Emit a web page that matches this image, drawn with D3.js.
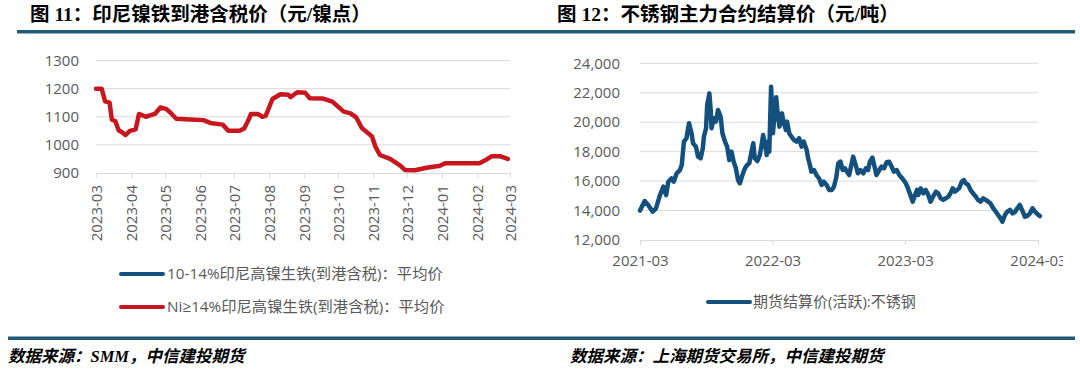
<!DOCTYPE html>
<html>
<head>
  <meta charset="utf-8">
  <title>印尼镍铁 / 不锈钢</title>
  <script src="https://d3js.org/d3.v7.min.js"></script>
  <style>
    body { margin: 0; background: #fff; }
    svg { display: block; }
    .lbl { font-family: "Open Sans", "Noto Sans CJK SC", sans-serif; font-size: 15px; fill: #595959; }
    .ttl { font-family: "Liberation Serif", "Noto Sans CJK SC", serif; font-size: 19.5px; font-weight: bold; fill: #000; }
    .src { font-family: "Liberation Serif", "Noto Sans CJK SC", serif; font-size: 16.5px; font-weight: bold; font-style: italic; fill: #000; }
  </style>
</head>
<body>
<svg id="chart" width="1080" height="370"></svg>
<script>
  // 图11 数据：Ni≥14% 印尼高镍生铁 到港含税 平均价（元/镍点）
  var nickelDates = ["2023-03-01","2023-03-06","2023-03-09","2023-03-13","2023-03-15","2023-03-18","2023-03-21","2023-03-24","2023-03-27","2023-03-31",
    "2023-04-05","2023-04-08","2023-04-14","2023-04-22","2023-04-27","2023-05-02","2023-05-07","2023-05-11","2023-05-23","2023-06-04",
    "2023-06-10","2023-06-21","2023-06-26","2023-07-06","2023-07-10","2023-07-14","2023-07-16","2023-07-22","2023-07-26","2023-07-29",
    "2023-08-04","2023-08-11","2023-08-18","2023-08-20","2023-08-26","2023-09-02","2023-09-06","2023-09-17","2023-09-26","2023-10-01",
    "2023-10-06","2023-10-12","2023-10-17","2023-10-22","2023-10-28","2023-10-31","2023-11-03","2023-11-07","2023-11-16","2023-11-25",
    "2023-11-29","2023-12-08","2023-12-17","2023-12-30","2024-01-04","2024-01-26","2024-02-03","2024-02-08","2024-02-14","2024-02-21","2024-02-28"];
  var nickelHigh = [1200,1200,1155,1150,1090,1085,1052,1045,1035,1050,
    1055,1110,1100,1110,1133,1128,1110,1093,1090,1088,
    1078,1072,1050,1050,1058,1090,1110,1110,1100,1103,
    1163,1180,1178,1170,1187,1185,1166,1165,1154,1136,
    1118,1112,1098,1060,1040,1030,994,964,950,926,
    911,910,918,926,935,935,935,945,960,960,950];
  var nickelTicks = [900, 1000, 1100, 1200, 1300];
  var nickelLegend = ["10-14%印尼高镍生铁(到港含税)：平均价", "Ni≥14%印尼高镍生铁(到港含税)：平均价"];

  // 图12 数据：期货结算价(活跃):不锈钢（元/吨）
  var steelDates = ["2021-03-01","2021-03-14","2021-03-23","2021-04-05","2021-04-14","2021-04-25","2021-05-04","2021-05-12","2021-05-18","2021-05-27",
    "2021-06-02","2021-06-10","2021-06-19","2021-06-24","2021-06-30","2021-07-07","2021-07-14","2021-07-21","2021-07-25","2021-08-02",
    "2021-08-08","2021-08-15","2021-08-21","2021-08-24","2021-08-30","2021-09-02","2021-09-08","2021-09-12","2021-09-14","2021-09-20",
    "2021-09-26","2021-10-02","2021-10-09","2021-10-14","2021-10-21","2021-10-27","2021-11-02","2021-11-08","2021-11-14","2021-11-20",
    "2021-11-26","2021-12-01","2021-12-08","2021-12-15","2021-12-21","2021-12-27","2022-01-02","2022-01-07","2022-01-11","2022-01-18",
    "2022-01-25","2022-01-30","2022-02-03","2022-02-08","2022-02-13","2022-02-17","2022-02-20","2022-02-25","2022-03-02","2022-03-11",
    "2022-03-14","2022-03-20","2022-03-27","2022-03-31","2022-04-07","2022-04-10","2022-04-16","2022-04-22","2022-04-29","2022-05-06",
    "2022-05-13","2022-05-20","2022-05-26","2022-06-03","2022-06-07","2022-06-12","2022-06-16","2022-06-23","2022-06-30","2022-07-07",
    "2022-07-14","2022-07-20","2022-07-28","2022-08-04","2022-08-11","2022-08-17","2022-08-23","2022-08-29","2022-09-04","2022-09-10",
    "2022-09-16","2022-09-22","2022-09-28","2022-10-05","2022-10-09","2022-10-16","2022-10-22","2022-10-29","2022-11-06","2022-11-13",
    "2022-11-19","2022-11-24","2022-12-01","2022-12-08","2022-12-12","2022-12-20","2022-12-26","2023-01-02","2023-01-09","2023-01-16",
    "2023-01-23","2023-01-29","2023-02-06","2023-02-13","2023-02-19","2023-02-27","2023-03-04","2023-03-09","2023-03-15","2023-03-22",
    "2023-03-29","2023-04-03","2023-04-06","2023-04-13","2023-04-20","2023-04-27","2023-05-04","2023-05-10","2023-05-17","2023-05-25",
    "2023-05-31","2023-06-07","2023-06-14","2023-06-21","2023-06-28","2023-07-04","2023-07-10","2023-07-16","2023-07-22","2023-07-28",
    "2023-08-04","2023-08-10","2023-08-15","2023-08-22","2023-08-28","2023-09-04","2023-09-12","2023-09-18","2023-09-25","2023-10-02",
    "2023-10-09","2023-10-16","2023-10-22","2023-10-30","2023-11-06","2023-11-12","2023-11-19","2023-11-24","2023-12-01","2023-12-07",
    "2023-12-15","2023-12-22","2023-12-29","2024-01-04","2024-01-11","2024-01-19","2024-01-25","2024-01-31","2024-02-08","2024-02-15",
    "2024-02-22","2024-02-28","2024-03-06"];
  var steelPrice = [14000,14650,14400,13920,14150,15050,15620,15050,15960,16190,
    15960,16530,16750,17090,18680,18910,19930,19250,18570,18340,
    17660,17550,18230,19020,19590,21170,21960,20710,19590,20270,
    20040,20830,20370,19250,18680,18340,17430,18000,17320,16870,
    16070,15850,16410,16870,17090,17210,18000,18570,17550,17360,
    17770,18450,19130,18570,17770,18680,18000,22400,19250,21700,
    20900,19700,20600,20040,19470,20040,19250,19020,18790,18680,
    18910,18340,18680,18110,17550,17090,16640,16750,16410,16190,
    15740,15960,15740,15400,15400,15620,16190,17210,17320,16750,
    16870,16640,16410,17210,17660,17090,16530,16750,16530,16870,
    16750,17320,17590,16870,16410,16750,16980,16870,17280,17320,
    16980,16640,16750,16410,16250,16000,15800,15500,15100,14600,
    15100,15400,15050,15510,15170,15400,15050,14600,14940,15280,
    15170,14830,14720,14830,14940,15170,15510,15280,15400,15510,
    15960,16070,15850,15740,15400,15170,14940,14720,14600,14830,
    14720,14600,14490,14150,13920,13700,13470,13240,13700,13920,
    14040,13810,13920,14150,14380,13920,13580,13630,13810,14150,
    13920,13770,13630];
  var steelTicks = [12000, 14000, 16000, 18000, 20000, 22000, 24000];
  var steelXTicks = ["2021-03-01", "2022-03-01", "2023-03-01", "2024-03-01"];
  var steelLegend = ["期货结算价(活跃):不锈钢"];

  var parse = d3.timeParse("%Y-%m-%d");
  var svg = d3.select("#chart");
  var blue = "#14507d", red = "#c8161e", grid = "#d9d9d9";

  // 标题与分隔线
  svg.append("text").attr("class", "ttl").attr("x", 30).attr("y", 21).text("图 11：印尼镍铁到港含税价（元/镍点）");
  svg.append("text").attr("class", "ttl").attr("x", 557).attr("y", 21).text("图 12：不锈钢主力合约结算价（元/吨）");
  svg.append("rect").attr("x", 17).attr("y", 30).attr("width", 1058).attr("height", 3.5).attr("fill", "#1f5a7a");
  svg.append("rect").attr("x", 8).attr("y", 336.5).attr("width", 1067).attr("height", 3.5).attr("fill", "#1f5a7a");
  svg.append("text").attr("class", "src").attr("x", 8).attr("y", 362).text("数据来源：SMM，中信建投期货");
  svg.append("text").attr("class", "src").attr("x", 570).attr("y", 362).text("数据来源：上海期货交易所，中信建投期货");

  // ---------- 图11 ----------
  var g1 = svg.append("g");
  var x1 = d3.scaleTime().domain([parse("2023-03-01"), parse("2024-03-01")]).range([96, 510]);
  var y1 = d3.scaleLinear().domain([900, 1300]).range([173, 60.5]);

  g1.selectAll(".grid").data(nickelTicks.slice(1)).enter().append("line")
    .attr("x1", 96).attr("x2", 510)
    .attr("y1", function(d) { return y1(d); }).attr("y2", function(d) { return y1(d); })
    .attr("stroke", grid).attr("stroke-width", 1);
  g1.selectAll(".yl").data(nickelTicks).enter().append("text")
    .attr("class", "lbl").attr("x", 79).attr("y", function(d) { return y1(d); })
    .attr("dy", "0.35em").attr("text-anchor", "end").text(function(d) { return d; });

  var ax1 = g1.append("g").attr("transform", "translate(0," + y1(900) + ")")
    .call(d3.axisBottom(x1).ticks(d3.timeMonth.every(1)).tickFormat(d3.timeFormat("%Y-%m")).tickSize(5).tickSizeOuter(0));
  ax1.select(".domain").attr("stroke", grid);
  ax1.selectAll(".tick line").attr("stroke", grid);
  ax1.selectAll(".tick text").attr("class", "lbl").attr("fill", null)
    .attr("transform", "rotate(-90)").attr("text-anchor", "end")
    .attr("x", -12).attr("y", 0).attr("dy", "0.35em");

  var line1 = d3.line().x(function(d) { return x1(d[0]); }).y(function(d) { return y1(d[1]); });
  g1.append("path").datum(nickelDates.map(function(d, i) { return [parse(d), nickelHigh[i]]; }))
    .attr("d", line1).attr("fill", "none").attr("stroke", red).attr("stroke-width", 4.5)
    .attr("stroke-linejoin", "round").attr("stroke-linecap", "round");

  var leg1 = g1.selectAll(".leg").data(nickelLegend).enter().append("g")
    .attr("transform", function(d, i) { return "translate(0," + (274 + i * 33) + ")"; });
  leg1.append("line").attr("x1", 121).attr("x2", 163).attr("y1", 0).attr("y2", 0)
    .attr("stroke", function(d, i) { return i === 0 ? blue : red; }).attr("stroke-width", 4).attr("stroke-linecap", "round");
  leg1.append("text").attr("class", "lbl").attr("x", 167).attr("y", 0).attr("dy", "0.35em")
    .style("font-size", "15.3px").text(function(d) { return d; });

  // ---------- 图12 ----------
  svg.append("clipPath").attr("id", "clip2").append("rect").attr("x", 540).attr("y", 40).attr("width", 523).attr("height", 290);
  var g2 = svg.append("g").attr("clip-path", "url(#clip2)");
  var x2 = d3.scaleTime().domain([parse("2021-03-01"), parse("2024-03-01")]).range([640, 1038]);
  var y2 = d3.scaleLinear().domain([12000, 24000]).range([240, 63.3]);

  g2.selectAll(".grid").data(steelTicks.slice(1)).enter().append("line")
    .attr("x1", 640).attr("x2", 1038)
    .attr("y1", function(d) { return y2(d); }).attr("y2", function(d) { return y2(d); })
    .attr("stroke", grid).attr("stroke-width", 1);
  g2.selectAll(".yl").data(steelTicks).enter().append("text")
    .attr("class", "lbl").attr("x", 620).attr("y", function(d) { return y2(d); })
    .attr("dy", "0.35em").attr("text-anchor", "end").text(d3.format(","));

  var ax2 = g2.append("g").attr("transform", "translate(0," + y2(12000) + ")")
    .call(d3.axisBottom(x2).tickValues(steelXTicks.map(parse)).tickFormat(d3.timeFormat("%Y-%m")).tickSize(5).tickSizeOuter(0));
  ax2.select(".domain").attr("stroke", grid);
  ax2.selectAll(".tick line").attr("stroke", grid);
  ax2.selectAll(".tick text").attr("class", "lbl").attr("fill", null).attr("y", 15).attr("dy", "0.71em");

  var line2 = d3.line().x(function(d) { return x2(d[0]); }).y(function(d) { return y2(d[1]); });
  g2.append("path").datum(steelDates.map(function(d, i) { return [parse(d), steelPrice[i]]; }))
    .attr("d", line2).attr("fill", "none").attr("stroke", blue).attr("stroke-width", 4.5)
    .attr("stroke-linejoin", "round").attr("stroke-linecap", "round");

  g2.append("line").attr("x1", 708).attr("x2", 750).attr("y1", 302).attr("y2", 302)
    .attr("stroke", blue).attr("stroke-width", 4).attr("stroke-linecap", "round");
  g2.append("text").attr("class", "lbl").attr("x", 753).attr("y", 302).attr("dy", "0.35em").text(steelLegend[0]);
</script>
</body>
</html>
